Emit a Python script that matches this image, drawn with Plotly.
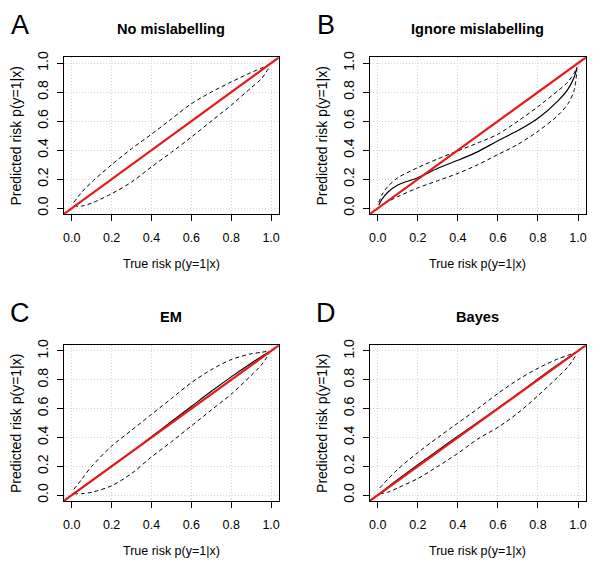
import plotly.graph_objects as go

# ---------------- data ----------------
panel_letters = ["A", "B", "C", "D"]
panel_titles = ["No mislabelling", "Ignore mislabelling", "EM", "Bayes"]
x_title = "True risk p(y=1|x)"
y_title = "Predicted risk p(y=1|x)"
tick_vals = [0.0, 0.2, 0.4, 0.6, 0.8, 1.0]
tick_text = ["0.0", "0.2", "0.4", "0.6", "0.8", "1.0"]
axis_range = [-0.04, 1.04]

# Panel A: No mislabelling
a_x = [0.01, 0.05, 0.1, 0.2, 0.3, 0.4, 0.5, 0.6, 0.7, 0.8, 0.9, 0.95, 0.99]
a_mid = [0.01, 0.05, 0.1, 0.2, 0.3, 0.4, 0.5, 0.6, 0.7, 0.8, 0.9, 0.95, 0.99]
a_upper = [0.04, 0.11, 0.18, 0.30, 0.41, 0.51, 0.615, 0.72, 0.80, 0.87, 0.935, 0.965, 0.99]
a_lower = [0.015, 0.015, 0.035, 0.10, 0.18, 0.285, 0.385, 0.49, 0.60, 0.71, 0.83, 0.89, 0.97]

# Panel B: Ignore mislabelling
b_x = [0.005, 0.02, 0.05, 0.1, 0.2, 0.3, 0.4, 0.5, 0.6, 0.7, 0.8, 0.9, 0.95, 0.98, 0.995]
b_mid = [0.02, 0.06, 0.11, 0.16, 0.21, 0.275, 0.33, 0.39, 0.465, 0.535, 0.62, 0.74, 0.82, 0.90, 0.97]
b_upper = [0.04, 0.09, 0.15, 0.21, 0.28, 0.34, 0.395, 0.45, 0.51, 0.60, 0.70, 0.81, 0.87, 0.93, 0.97]
b_lower = [0.005, 0.02, 0.045, 0.08, 0.14, 0.19, 0.24, 0.30, 0.37, 0.44, 0.53, 0.64, 0.72, 0.81, 0.95]

# Panel C: EM
c_x = [0.01, 0.05, 0.1, 0.2, 0.3, 0.4, 0.5, 0.6, 0.7, 0.8, 0.9, 0.95, 0.99]
c_mid = [0.01, 0.05, 0.1, 0.2, 0.3, 0.405, 0.51, 0.615, 0.72, 0.82, 0.915, 0.96, 0.995]
c_upper = [0.04, 0.11, 0.20, 0.34, 0.45, 0.56, 0.67, 0.78, 0.87, 0.94, 0.98, 0.99, 1.0]
c_lower = [0.01, 0.01, 0.02, 0.065, 0.15, 0.265, 0.37, 0.48, 0.59, 0.70, 0.83, 0.90, 0.98]

# Panel D: Bayes
d_x = [0.01, 0.05, 0.1, 0.2, 0.3, 0.4, 0.5, 0.6, 0.7, 0.8, 0.9, 0.95, 0.99]
d_mid = [0.01, 0.055, 0.108, 0.21, 0.31, 0.408, 0.505, 0.603, 0.703, 0.805, 0.905, 0.952, 0.99]
d_upper = [0.05, 0.11, 0.18, 0.295, 0.40, 0.50, 0.60, 0.705, 0.80, 0.88, 0.945, 0.97, 0.99]
d_lower = [0.01, 0.02, 0.05, 0.115, 0.20, 0.29, 0.39, 0.47, 0.57, 0.69, 0.82, 0.89, 0.97]

panels = [
    (a_x, a_mid, a_upper, a_lower, False),
    (b_x, b_mid, b_upper, b_lower, True),
    (c_x, c_mid, c_upper, c_lower, True),
    (d_x, d_mid, d_upper, d_lower, True),
]

# ---------------- layout geometry ----------------
W, H = 600, 567
x_doms = [(63 / W, 279 / W), (370 / W, 587 / W)]
y_doms = [(1 - 211 / H, 1 - 52 / H), (1 - 502 / H, 1 - 344 / H)]

FONT = "Liberation Sans, Arial, Helvetica, sans-serif"

fig = go.Figure()
annotations = []

for i, (px, pmid, pup, plo, show_mid) in enumerate(panels):
    row, col = divmod(i, 2)
    xd = x_doms[col]
    yd = y_doms[row]
    n = i + 1
    xa = "x" if n == 1 else f"x{n}"
    ya = "y" if n == 1 else f"y{n}"
    dash_style = dict(color="black", width=1, dash="4px,3px")
    fig.add_trace(go.Scatter(x=px, y=pup, mode="lines", line=dict(**dash_style, shape="spline", smoothing=0.8),
                             xaxis=xa, yaxis=ya, showlegend=False, hoverinfo="skip"))
    fig.add_trace(go.Scatter(x=px, y=plo, mode="lines", line=dict(**dash_style, shape="spline", smoothing=0.8),
                             xaxis=xa, yaxis=ya, showlegend=False, hoverinfo="skip"))
    if show_mid:
        fig.add_trace(go.Scatter(x=px, y=pmid, mode="lines",
                                 line=dict(color="black", width=1.2, shape="spline", smoothing=0.8),
                                 xaxis=xa, yaxis=ya, showlegend=False, hoverinfo="skip"))
    # identity reference line across the full plotting region
    fig.add_trace(go.Scatter(x=axis_range, y=axis_range, mode="lines",
                             line=dict(color="#e41a1c", width=2.2),
                             xaxis=xa, yaxis=ya, showlegend=False, hoverinfo="skip"))

    common = dict(range=axis_range, tickvals=tick_vals, ticktext=tick_text,
                  showgrid=True, gridcolor="#d3d3d3", griddash="1px,2px", gridwidth=1,
                  zeroline=False, showline=True, linecolor="black", linewidth=1, mirror=True,
                  ticks="outside", ticklen=6, tickcolor="black", tickwidth=1, fixedrange=True)
    xkey = "xaxis" if n == 1 else f"xaxis{n}"
    ykey = "yaxis" if n == 1 else f"yaxis{n}"
    fig.update_layout(**{
        xkey: dict(domain=list(xd), anchor=ya, ticklabelstandoff=6,
                   tickfont=dict(family=FONT, size=12.5, color="black"), **common),
        ykey: dict(domain=list(yd), anchor=xa, tickangle=-90, ticklabelstandoff=3,
                   tickfont=dict(family=FONT, size=14, color="black"), **common),
    })

    x0, x1 = xd[0] * W, xd[1] * W
    ytop, ybot = (1 - yd[1]) * H, (1 - yd[0]) * H
    xc = (x0 + x1) / 2
    yc = (ytop + ybot) / 2
    # panel letter
    annotations.append(dict(text=panel_letters[i], x=(x0 - 44) / W, y=1 - (ytop - 33) / H,
                            xref="paper", yref="paper", xanchor="center", yanchor="middle",
                            showarrow=False, font=dict(family=FONT, size=27, color="black")))
    # title
    annotations.append(dict(text="<b>" + panel_titles[i] + "</b>", x=xc / W, y=1 - (ytop - 29) / H,
                            xref="paper", yref="paper", xanchor="center", yanchor="middle",
                            showarrow=False, font=dict(family=FONT, size=14.6, color="black")))
    # x axis title
    annotations.append(dict(text=x_title, x=xc / W, y=1 - (ybot + 51) / H,
                            xref="paper", yref="paper", xanchor="center", yanchor="middle",
                            showarrow=False, font=dict(family=FONT, size=12.5, color="black")))
    # y axis title
    annotations.append(dict(text=y_title, x=(x0 - 48) / W, y=1 - yc / H, textangle=-90,
                            xref="paper", yref="paper", xanchor="center", yanchor="middle",
                            showarrow=False, font=dict(family=FONT, size=14, color="black")))

fig.update_layout(width=W, height=H, margin=dict(l=0, r=0, t=0, b=0),
                  paper_bgcolor="white", plot_bgcolor="white",
                  annotations=annotations, showlegend=False)

fig.write_html("out.html", config={"displayModeBar": False, "staticPlot": True},
               post_script="document.body.style.margin='0';document.body.style.overflow='hidden';")
